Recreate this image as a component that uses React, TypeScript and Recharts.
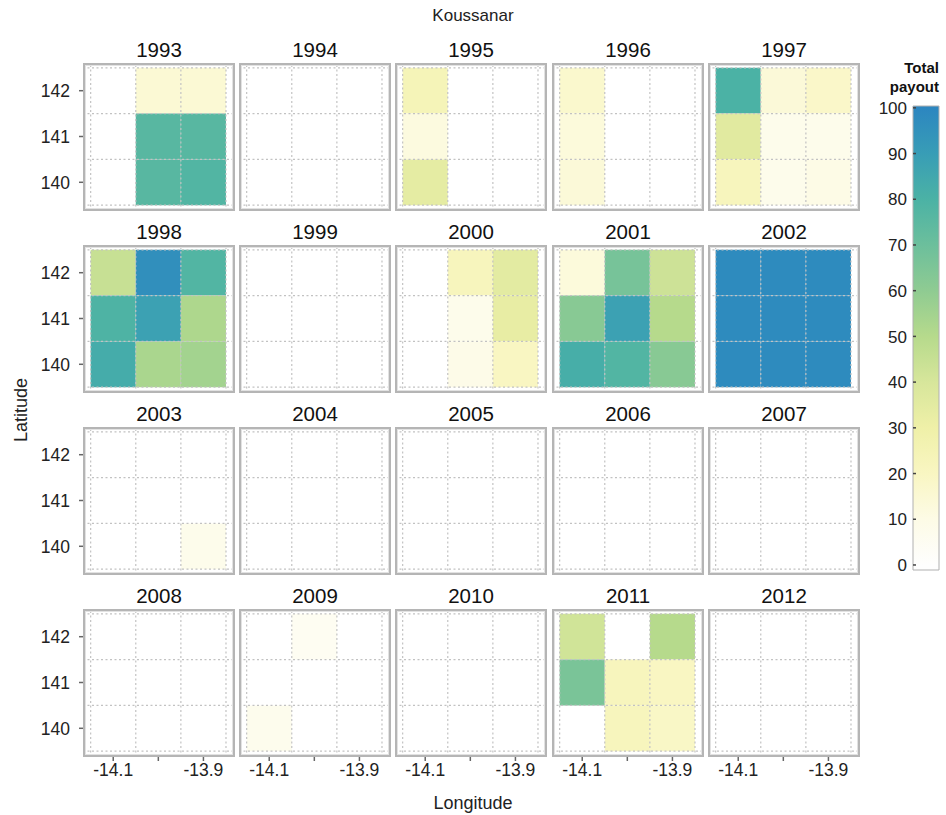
import React from 'react';
import { ScatterChart, Scatter, XAxis, YAxis, ReferenceArea, ReferenceLine, BarChart } from 'recharts';

const years = [1993, 1994, 1995, 1996, 1997, 1998, 1999, 2000, 2001, 2002, 2003, 2004, 2005, 2006, 2007, 2008, 2009, 2010, 2011, 2012];
const lons = [-14.1, -14.0, -13.9];
const lats = [142, 141, 140];
const lonTicks = [-14.1, -14.0, -13.9];
const latTicks = [140, 141, 142];
const colorbarTicks = [0, 10, 20, 30, 40, 50, 60, 70, 80, 90, 100];
// each row: lat 142 (3 lons), lat 141 (3 lons), lat 140 (3 lons)
const payouts: number[][] = [
  [0, 15, 15, 0, 76, 76, 0, 76, 78],
  [0, 0, 0, 0, 0, 0, 0, 0, 0],
  [24, 0, 0, 12, 0, 0, 34, 0, 0],
  [17, 0, 0, 13, 0, 0, 14, 0, 0],
  [80, 14, 18, 36, 8, 8, 22, 8, 10],
  [45, 96, 78, 79, 88, 52, 83, 53, 55],
  [0, 0, 0, 0, 0, 0, 0, 0, 0],
  [0, 22, 35, 0, 8, 33, 0, 9, 20],
  [13, 67, 43, 62, 88, 50, 82, 78, 62],
  [98, 98, 98, 98, 98, 98, 98, 98, 98],
  [0, 0, 0, 0, 0, 0, 0, 0, 8],
  [0, 0, 0, 0, 0, 0, 0, 0, 0],
  [0, 0, 0, 0, 0, 0, 0, 0, 0],
  [0, 0, 0, 0, 0, 0, 0, 0, 0],
  [0, 0, 0, 0, 0, 0, 0, 0, 0],
  [0, 0, 0, 0, 0, 0, 0, 0, 0],
  [0, 5, 0, 0, 0, 0, 7, 0, 0],
  [0, 0, 0, 0, 0, 0, 0, 0, 0],
  [42, 0, 50, 66, 22, 20, 0, 22, 19],
  [0, 0, 0, 0, 0, 0, 0, 0, 0],
];

const colorStops: [number, string][] = [
  [0, '#fefefe'],
  [10, '#fdfbe6'],
  [20, '#f9f6c2'],
  [30, '#eff0a8'],
  [40, '#d7e69b'],
  [50, '#b6da8c'],
  [60, '#8fcb92'],
  [70, '#6cbf9c'],
  [80, '#4bb2a5'],
  [90, '#389db6'],
  [100, '#2c86c0'],
];

function hexToRgb(h: string) {
  return [parseInt(h.slice(1, 3), 16), parseInt(h.slice(3, 5), 16), parseInt(h.slice(5, 7), 16)];
}
function colorFor(v: number) {
  if (v <= 0) return '#ffffff';
  for (let i = 0; i < colorStops.length - 1; i++) {
    const [a, ca] = colorStops[i];
    const [b, cb] = colorStops[i + 1];
    if (v <= b) {
      const t = (v - a) / (b - a);
      const A = hexToRgb(ca), B = hexToRgb(cb);
      const c = A.map((x, k) => Math.round(x + (B[k] - x) * t));
      return `rgb(${c[0]},${c[1]},${c[2]})`;
    }
  }
  return colorStops[colorStops.length - 1][1];
}

const FONT = "'Liberation Sans', Arial, Helvetica, sans-serif";
const colLeft = [83, 239, 395, 552, 708];
const rowTop = [63, 245, 427, 609];
const BOX_W = 152;
const BOX_H = 148;
const X_DOMAIN: [number, number] = [-14.167, -13.83];
const Y_DOMAIN: [number, number] = [139.373, 142.605];
const gridX = [-14.15, -14.05, -13.95, -13.85];
const gridY = [139.5, 140.5, 141.5, 142.5];
const Y_AXIS_W = 70;
const X_AXIS_H = 30;

function Panel({ idx }: { idx: number }) {
  const col = idx % 5;
  const row = Math.floor(idx / 5);
  const showY = col === 0;
  const showX = row === 3;
  const w = BOX_W + (showY ? Y_AXIS_W : 0);
  const h = BOX_H + (showX ? X_AXIS_H : 0);
  const left = colLeft[col] - (showY ? Y_AXIS_W : 0);
  const top = rowTop[row];
  const vals = payouts[idx];
  const cells = lats.flatMap((lat, i) => lons.map((lon, j) => ({ lon, lat, v: vals[i * 3 + j] })));
  return (
    <div style={{ position: 'absolute', left, top, width: w, height: h }}>
      <ScatterChart width={w} height={h} margin={{ top: 0, right: 0, bottom: 0, left: 0 }}>
        <XAxis
          type="number"
          dataKey="lon"
          domain={X_DOMAIN}
          allowDataOverflow
          ticks={lonTicks}
          hide={!showX}
          height={X_AXIS_H}
          axisLine={false}
          tickSize={4}
          tickMargin={3}
          tickLine={{ stroke: '#666', strokeWidth: 1.5 }}
          tick={{ fill: '#222', fontSize: 17.5, fontFamily: FONT }}
          tickFormatter={(v: number) => (Math.abs(v + 14) < 1e-6 ? '' : v.toFixed(1))}
          interval={0}
        />
        <YAxis
          type="number"
          dataKey="lat"
          domain={Y_DOMAIN}
          allowDataOverflow
          ticks={latTicks}
          hide={!showY}
          width={Y_AXIS_W}
          axisLine={false}
          tickSize={4}
          tickMargin={9}
          tickLine={{ stroke: '#666', strokeWidth: 1.5 }}
          tick={{ fill: '#222', fontSize: 17.5, fontFamily: FONT }}
          interval={0}
        />
        {cells.map((c, k) =>
          c.v > 0 ? (
            <ReferenceArea
              key={'c' + k}
              x1={c.lon - 0.05}
              x2={c.lon + 0.05}
              y1={c.lat - 0.5}
              y2={c.lat + 0.5}
              fill={colorFor(c.v)}
              fillOpacity={1}
              stroke="none"
            />
          ) : null
        )}
        {gridX.map((g) => (
          <ReferenceLine key={'gx' + g} x={g} stroke="#c2c2c2" strokeWidth={1.2} strokeDasharray="2 2.5" />
        ))}
        {gridY.map((g) => (
          <ReferenceLine key={'gy' + g} y={g} stroke="#c2c2c2" strokeWidth={1.2} strokeDasharray="2 2.5" />
        ))}
        <Scatter data={cells} isAnimationActive={false} shape={() => <g />} />
      </ScatterChart>
      <div
        style={{
          position: 'absolute',
          left: showY ? Y_AXIS_W : 0,
          top: 0,
          width: BOX_W,
          height: BOX_H,
          boxSizing: 'border-box',
          border: '2px solid #b5b5b5',
          boxShadow: 'inset 0 0 0 1px #e2e2e2',
          pointerEvents: 'none',
        }}
      />
    </div>
  );
}

const CB_LEFT = 913;
const CB_TOP = 106;
const CB_W = 26;
const CB_H = 464;
const CB_AXIS_W = 45;
const CB_PAD = 12;
const CB_DOMAIN: [number, number] = [-1.1, 100.4];

function CbTick(props: any) {
  const { y, payload } = props;
  return (
    <g>
      <text x={CB_AXIS_W - 6} y={y} dy="0.36em" textAnchor="end" fill="#222" fontSize={17} fontFamily={FONT}>
        {payload.value}
      </text>
      <line x1={CB_AXIS_W} x2={CB_AXIS_W + 3} y1={y} y2={y} stroke="#444" strokeWidth={1.5} />
    </g>
  );
}

function Colorbar() {
  const span = CB_DOMAIN[1] - CB_DOMAIN[0];
  const cbData = [{ k: 'bar', v: 100 }];
  const w = CB_AXIS_W + CB_W + 2;
  const h = CB_H + 2 * CB_PAD;
  return (
    <div style={{ position: 'absolute', left: CB_LEFT - CB_AXIS_W, top: CB_TOP - CB_PAD, width: w, height: h }}>
      <BarChart width={w} height={h} data={cbData} margin={{ top: CB_PAD, right: 2, bottom: CB_PAD, left: 0 }}>
        <defs>
          <linearGradient id="cbGrad" x1="0" y1="1" x2="0" y2="0">
            {colorStops.map(([v, c]) => (
              <stop key={v} offset={(v - CB_DOMAIN[0]) / span} stopColor={c} />
            ))}
          </linearGradient>
        </defs>
        <XAxis dataKey="k" hide />
        <YAxis
          type="number"
          domain={CB_DOMAIN}
          allowDataOverflow
          ticks={colorbarTicks}
          width={CB_AXIS_W}
          axisLine={false}
          tickLine={false}
          tick={<CbTick />}
          interval={0}
        />
        <ReferenceArea y1={CB_DOMAIN[0]} y2={CB_DOMAIN[1]} fill="url(#cbGrad)" fillOpacity={1} stroke="#b0b0b0" strokeWidth={1} />
      </BarChart>
    </div>
  );
}

export default function App() {
  return (
    <div style={{ position: 'absolute', left: 0, top: 0, width: 946, height: 815, background: '#fff', fontFamily: FONT }}>
      {years.map((_, i) => (
        <Panel key={i} idx={i} />
      ))}
      <Colorbar />
      <svg width={946} height={815} style={{ position: 'absolute', left: 0, top: 0, pointerEvents: 'none' }}>
        {years.map((y, i) => {
          const col = i % 5;
          const row = Math.floor(i / 5);
          return (
            <text
              key={y}
              x={colLeft[col] + BOX_W / 2}
              y={rowTop[row] - 6}
              textAnchor="middle"
              fontSize={20.5}
              fill="#111"
              fontFamily={FONT}
            >
              {y}
            </text>
          );
        })}
        <text x={473} y={21} textAnchor="middle" fontSize={17} fill="#222" fontFamily={FONT}>
          Koussanar
        </text>
        <text x={473} y={809} textAnchor="middle" fontSize={18} fill="#222" fontFamily={FONT}>
          Longitude
        </text>
        <text
          x={0}
          y={0}
          transform="translate(27,410) rotate(-90)"
          textAnchor="middle"
          fontSize={18}
          fill="#222"
          fontFamily={FONT}
        >
          Latitude
        </text>
        <text x={939} y={73} textAnchor="end" fontSize={15} fontWeight="bold" fill="#111" fontFamily={FONT}>
          Total
        </text>
        <text x={939} y={92} textAnchor="end" fontSize={15} fontWeight="bold" fill="#111" fontFamily={FONT}>
          payout
        </text>
      </svg>
    </div>
  );
}
